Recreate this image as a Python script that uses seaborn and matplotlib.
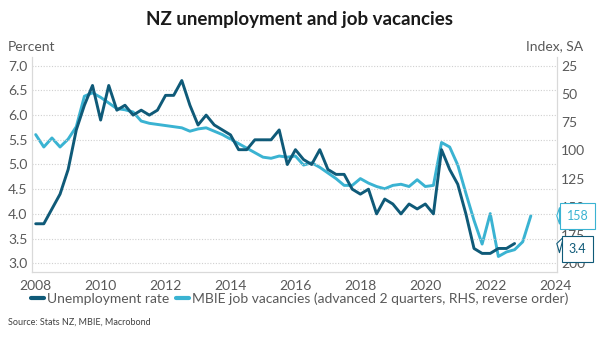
import numpy as np
import pandas as pd
import matplotlib
matplotlib.use('Agg')
import matplotlib.pyplot as plt
import seaborn as sns

# quarterly data, starting 2008 Q1
unemployment = [3.8, 3.8, 4.1, 4.4, 4.9, 5.7, 6.2, 6.6,
                5.9, 6.6, 6.1, 6.2, 6.0, 6.1, 6.0, 6.1,
                6.4, 6.4, 6.7, 6.2, 5.8, 6.0, 5.8, 5.7,
                5.6, 5.3, 5.3, 5.5, 5.5, 5.5, 5.7, 5.0,
                5.3, 5.1, 5.0, 5.3, 4.9, 4.8, 4.8, 4.5,
                4.4, 4.5, 4.0, 4.3, 4.2, 4.0, 4.2, 4.1,
                4.2, 4.0, 5.3, 4.9, 4.6, 4.0, 3.3, 3.2,
                3.2, 3.3, 3.3, 3.4]

# MBIE job vacancies index, advanced 2 quarters
vacancies = [86, 97, 89, 97, 90, 79, 52, 49,
             53, 58, 63, 64, 66, 74, 76, 77,
             78, 79, 80, 83, 81, 80, 83, 86,
             90, 94, 98, 102, 106, 107, 105, 106,
             105, 113, 111, 115, 120, 125, 131, 131,
             125, 129, 132, 134, 131, 130, 132, 126,
             132, 131, 93, 97, 113, 138, 162, 183,
             156, 194, 190, 188, 181, 158]

start_year = 2008
left_ticks = [3.0, 3.5, 4.0, 4.5, 5.0, 5.5, 6.0, 6.5, 7.0]
right_ticks = [25, 50, 75, 100, 125, 150, 175, 200]
x_ticks = [2008, 2010, 2012, 2014, 2016, 2018, 2020, 2022, 2024]

unemp_df = pd.DataFrame({'date': start_year + np.arange(len(unemployment)) / 4,
                         'value': unemployment})
vac_df = pd.DataFrame({'date': start_year + np.arange(len(vacancies)) / 4,
                       'value': vacancies})

dark = '#0f5a78'
light = '#3ab3d2'
grey_text = '#595959'
spine_col = '#d9d9d9'

sns.set_style('white')
plt.rcParams['font.family'] = ['Lato', 'DejaVu Sans']

fig = plt.figure(figsize=(6, 3.53), dpi=100)
ax = fig.add_axes([0.053, 0.229, 0.875, 0.61])
ax2 = ax.twinx()

sns.lineplot(data=unemp_df, x='date', y='value', ax=ax, color=dark, lw=2.1, zorder=3)
sns.lineplot(data=vac_df, x='date', y='value', ax=ax2, color=light, lw=2.1, zorder=2)

# keep the dark line on top
ax.set_zorder(ax2.get_zorder() + 1)
ax.patch.set_visible(False)

ax.set_xlim(2007.88, 2024.05)
ax.set_ylim(2.82, 7.18)
ax2.set_ylim(207.9, 17.1)

ax.set_xticks(x_ticks)
ax.set_yticks(left_ticks)
ax.set_yticklabels([f'{t:.1f}' for t in left_ticks])
ax2.set_yticks(right_ticks)

ax.grid(axis='y', linestyle=(0, (1, 1.5)), color='#d0d0d0', lw=0.8)
ax.set_xlabel('')
ax.set_ylabel('')
ax2.set_ylabel('')

for a in (ax, ax2):
    a.tick_params(length=0, labelsize=10, colors=grey_text, pad=3)
    for s in a.spines.values():
        s.set_color(spine_col)
        s.set_linewidth(0.9)
    a.spines['top'].set_visible(False)
ax.spines['right'].set_visible(False)
ax2.spines['left'].set_visible(False)
ax2.spines['bottom'].set_visible(False)
ax.tick_params(axis='x', pad=6)

fig.text(0.5, 0.945, 'NZ unemployment and job vacancies', ha='center', va='center',
         fontsize=13.5, fontweight='bold', color='#1a1a1a')
fig.text(0.013, 0.868, 'Percent', ha='left', va='center', fontsize=10, color=grey_text)
fig.text(0.972, 0.868, 'Index, SA', ha='right', va='center', fontsize=10, color=grey_text)

# callout labels for latest values (overlapping the right tick labels, as in the original)
callouts = [(ax2, vacancies[-1], f'{vacancies[-1]}', light, 0),
            (ax, unemployment[-1], f'{unemployment[-1]}', dark, -4)]
for a, yval, txt, col, dy in callouts:
    a.annotate(txt, xy=(1.0, yval), xycoords=('axes fraction', 'data'),
               xytext=(15, dy), textcoords='offset points', ha='center', va='center',
               fontsize=9, color=col, annotation_clip=False, zorder=10,
               bbox=dict(boxstyle='square,pad=0.55', fc='white', ec=col, lw=0.8),
               arrowprops=dict(arrowstyle='wedge,tail_width=1.3', fc='white', ec=col, lw=0.8,
                               shrinkA=0, shrinkB=0))

handles = [plt.Line2D([], [], color=dark, lw=3), plt.Line2D([], [], color=light, lw=3)]
labels = ['Unemployment rate', 'MBIE job vacancies (advanced 2 quarters, RHS, reverse order)']
fig.legend(handles, labels, loc='center', bbox_to_anchor=(0.5, 0.155), ncol=2, frameon=False,
           fontsize=10, handlelength=0.9, handletextpad=0.25, columnspacing=0.5,
           labelcolor=grey_text)

fig.text(0.013, 0.088, 'Source: Stats NZ, MBIE, Macrobond', ha='left', va='center',
         fontsize=6.5, color='#404040')

fig.savefig('out.png', dpi=100)
